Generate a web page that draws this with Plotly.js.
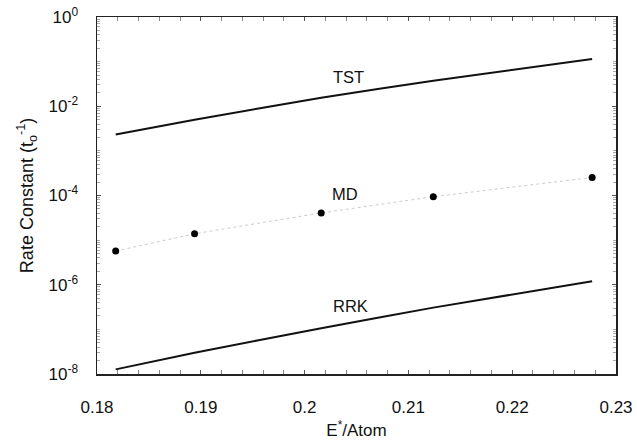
<!DOCTYPE html>
<html>
<head>
<meta charset="utf-8">
<script src="https://cdn.plot.ly/plotly-3.0.1.min.js"></script>
<style>html,body{margin:0;padding:0;background:#fff;}#chart{width:637px;height:443px;}</style>
</head>
<body>
<div id="chart"></div>
<script>
// Energy per atom (x)
const energy = [0.1818, 0.1894, 0.2016, 0.2124, 0.2277];
// Rate constants (units of t_o^-1)
const tst = [2.34e-3, 5.0e-3, 1.55e-2, 3.71e-2, 0.1146];
const md  = [5.7e-6, 1.39e-5, 4.07e-5, 9.4e-5, 2.54e-4];
const rrk = [1.27e-8, 3.0e-8, 1.06e-7, 3.07e-7, 1.2e-6];
// Curve labels
const curveNames = ["TST", "MD", "RRK"];
const labelX = [0.2042, 0.2039, 0.2044];
const labelY = [10**-1.34, 10**-3.96, 10**-6.48];
// Tick labels
const xTickVals = [0.18, 0.19, 0.20, 0.21, 0.22, 0.23];
const xTickText = ["0.18", "0.19", "0.2", "0.21", "0.22", "0.23"];
const yTickVals = [1e-8, 1e-6, 1e-4, 1e-2, 1];
const yTickText = ["10<sup>-8</sup>", "10<sup>-6</sup>", "10<sup>-4</sup>", "10<sup>-2</sup>", "10<sup>0</sup>"];

const font = "Liberation Sans, Arial, Helvetica, sans-serif";

const traces = [
  {x: energy, y: tst, mode: "lines", line: {color: "#111", width: 2, shape: "spline", smoothing: 0.6}, hoverinfo: "skip"},
  {x: energy, y: md, mode: "lines", line: {color: "#ccc", width: 1, dash: "dot"}, hoverinfo: "skip"},
  {x: energy, y: md, mode: "markers", marker: {color: "#000", size: 7}, hoverinfo: "skip"},
  {x: energy, y: rrk, mode: "lines", line: {color: "#111", width: 2, shape: "spline", smoothing: 0.6}, hoverinfo: "skip"}
];

const annotations = curveNames.map((t, i) => ({
  x: labelX[i], y: Math.log10(labelY[i]), xref: "x", yref: "y",
  text: t, showarrow: false, font: {family: font, size: 16.5, color: "#111"}
}));

const layout = {
  width: 637, height: 443,
  margin: {l: 97, r: 21, t: 17, b: 69},
  paper_bgcolor: "#fff", plot_bgcolor: "#fff",
  showlegend: false,
  font: {family: font, color: "#111"},
  xaxis: {
    range: [0.18, 0.23], tickmode: "array", tickvals: xTickVals, ticktext: xTickText,
    ticks: "inside", ticklen: 4, tickcolor: "#555", showgrid: false, zeroline: false,
    showline: true, linecolor: "#222", linewidth: 1.5, mirror: "ticks",
    tickfont: {size: 17, family: font, color: "#111"}, ticklabelstandoff: 17,
    minor: {dtick: 0.002, ticks: "inside", ticklen: 4, tickcolor: "#888", showgrid: false},
    title: {text: "E<sup>*</sup>/Atom", font: {size: 17, family: font, color: "#111"}, standoff: 8}
  },
  yaxis: {
    type: "log", range: [-8, 0], tickmode: "array", tickvals: yTickVals, ticktext: yTickText,
    ticks: "inside", ticklen: 4, tickcolor: "#555", showgrid: false, zeroline: false,
    showline: true, linecolor: "#222", linewidth: 1.5, mirror: "ticks",
    tickfont: {size: 17, family: font, color: "#111"}, ticklabelstandoff: 14,
    minor: {dtick: "D1", ticks: "inside", ticklen: 3, tickcolor: "#aaa", showgrid: false},
    title: {text: "Rate Constant (t<sub>o</sub><sup>-1</sup>)", font: {size: 18, family: font, color: "#111"}, standoff: 10}
  },
  annotations: annotations
};

Plotly.newPlot("chart", traces, layout, {staticPlot: true, displayModeBar: false});
</script>
</body>
</html>
